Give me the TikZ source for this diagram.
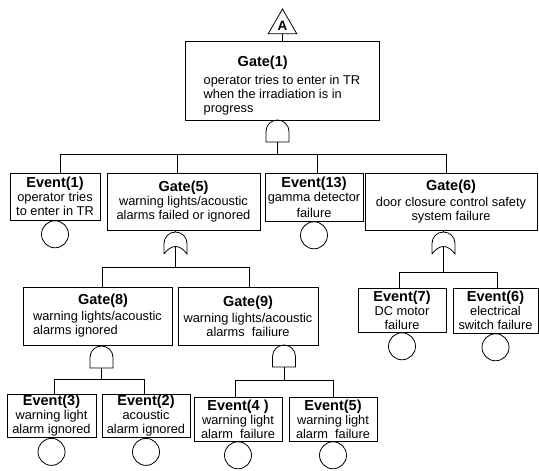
\documentclass[tikz,border=0pt]{standalone}
\usepackage{fontspec}
\setmainfont{Liberation Sans}
\usetikzlibrary{positioning,shapes.geometric}
\newcommand{\bodyfont}{\fontsize{12.8}{14}\selectfont}
\newcommand{\ttl}[1]{{\fontsize{14.5}{15}\selectfont\bfseries #1}}
\tikzset{
  box/.style={draw, rectangle, inner sep=1pt, align=center, font=\bodyfont},
  evcirc/.style={draw, circle, minimum size=27pt, inner sep=0pt},
  andgate/.pic={
    \draw (-11.5,-11.5) arc[start angle=180,end angle=0,radius=11.5] -- (11.5,-22) -- (-11.5,-22) -- cycle;
    \coordinate (-in) at (0,0);
    \coordinate (-out) at (0,-22);
  },
  orgate/.pic={
    \draw (-11.5,-22) -- (-11.5,-11.5) arc[start angle=180,end angle=0,radius=11.5] -- (11.5,-22) .. controls (4,-12) and (-4,-12) .. (-11.5,-22);
    \coordinate (-in) at (0,0);
    \coordinate (-out) at (0,-14.5);
  }
}
\begin{document}
\begin{tikzpicture}[x=1pt,y=1pt,line width=0.8pt]
	\useasboundingbox (0,0) rectangle (539,471);
	\node[regular polygon, regular polygon sides=3, draw, minimum size=33pt, inner sep=0pt, font=\fontsize{13.5}{13.5}\selectfont\bfseries] (top) at (282.5,445.5) {A};
	\node[box, minimum width=194pt, minimum height=79pt, align=left] (g1) at (282,390.5) {\hspace*{34pt}\rule{0pt}{20pt}\ttl{Gate(1)}\\[4pt]operator tries to enter in TR\\when the irradiation is in\\progress};
	\draw (top.south) -- (top.south |- g1.north);
	\pic (a1) at (277.5,351) {andgate};
	\draw (a1-out) -- ++(0,-12.5) coordinate (bus1);

	\node[box, minimum width=90pt, minimum height=47pt] (e1) at (55,274.5) {\ttl{Event(1)}\\operator tries\\to enter in TR};
	\node[box, minimum width=153pt, minimum height=57pt] (g5) at (183.5,269.5) {\ttl{Gate(5)}\\warning lights/acoustic\\alarms failed or ignored};
	\node[box, minimum width=98pt, minimum height=48pt] (e13) at (314,274) {\ttl{Event(13)}\\gamma detector\\[2pt]failure};
	\node[box, minimum width=172pt, minimum height=57pt] (g6) at (451,269.5) {\ttl{Gate(6)}\\[2pt]door closure control safety\\system failure};
	\node[evcirc, below=0pt of e1] (c1) {};
	\node[evcirc, below=0pt of e13] (c13) {};
	\draw (bus1) -| ([xshift=5pt]e1.north);
	\draw (bus1) -| ([xshift=-6.5pt]g5.north);
	\draw (bus1) -| ([xshift=3pt]e13.north);
	\draw (bus1) -| ([xshift=-5pt]g6.north);

	\pic (o5) at (175.5,239) {orgate};
	\draw (o5-in |- g5.south) -- (o5-in);
	\draw (o5-out) -- ++(0,-20.5) coordinate (bus5);
	\pic (o6) at (443.5,239) {orgate};
	\draw (o6-in |- g6.south) -- (o6-in);
	\draw (o6-out) -- ++(0,-25.5) coordinate (bus6);

	\node[box, minimum width=149pt, minimum height=58pt, align=left] (g8) at (97.5,155) {\hspace*{45pt}\ttl{Gate(8)}\\[2pt]warning lights/acoustic\\alarms ignored};
	\node[box, minimum width=140pt, minimum height=58pt] (g9) at (248,155) {\ttl{Gate(9)}\\[2pt]warning lights/acoustic\\alarms\ \ failiure};
	\node[box, minimum width=88pt, minimum height=44pt] (e7) at (402,161) {\ttl{Event(7)}\\DC motor\\failure};
	\node[box, minimum width=85pt, minimum height=45pt] (e6) at (495.5,160.5) {\ttl{Event(6)}\\electrical\\switch failure};
	\node[evcirc, below=0pt of e7] (c7) {};
	\node[evcirc, below=0pt of e6] (c6) {};
	\draw (bus5) -| ([xshift=4.5pt]g8.north);
	\draw (bus5) -| ([xshift=1pt]g9.north);
	\draw (bus6) -| ([xshift=-3pt]e7.north);
	\draw (bus6) -| ([xshift=1.5pt]e6.north);

	\pic (a8) at (101.5,125) {andgate};
	\draw (a8-in |- g8.south) -- (a8-in);
	\draw (a8-out) -- ++(0,-11) coordinate (bus8);
	\pic (a9) at (284,126) {andgate};
	\draw (a9-in |- g9.south) -- (a9-in);
	\draw (a9-out) -- ++(0,-13) coordinate (bus9);

	\node[box, minimum width=89pt, minimum height=42pt] (e3) at (51.5,55) {\ttl{Event(3)}\\warning light\\alarm ignored};
	\node[box, minimum width=88pt, minimum height=42pt] (e2) at (146,55) {\ttl{Event(2)}\\acoustic\\alarm ignored};
	\node[box, minimum width=88pt, minimum height=44pt] (e4) at (238,52) {\ttl{Event(4 )}\\warning light\\alarm\ \ failure};
	\node[box, minimum width=88pt, minimum height=44pt] (e5) at (333,52) {\ttl{Event(5)}\\warning light\\alarm\ \ failure};
	\node[evcirc, below=0pt of e3] (c3) {};
	\node[evcirc, below=0pt of e2] (c2) {};
	\node[evcirc, below=0pt of e4] (c4) {};
	\node[evcirc, below=0pt of e5] (c5) {};
	\draw (bus8) -| ([xshift=2.5pt]e3.north);
	\draw (bus8) -| ([xshift=-2pt]e2.north);
	\draw (bus9) -| ([xshift=-3pt]e4.north);
	\draw (bus9) -| (e5.north);
\end{tikzpicture}
\end{document}
